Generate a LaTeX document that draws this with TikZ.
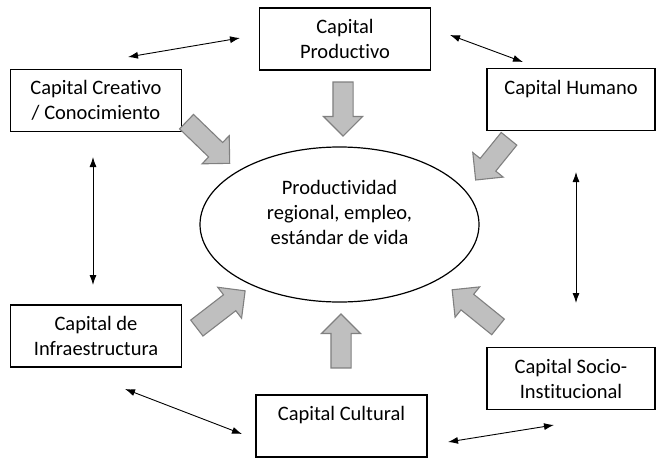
\documentclass[tikz,border=0pt]{standalone}
\usepackage{fontspec}
\setmainfont{Carlito}[Ligatures=NoCommon]
\usetikzlibrary{shapes.geometric,shapes.arrows,arrows.meta}

\begin{document}
\begin{tikzpicture}[x=1pt,y=-1pt,
        every node/.style={font=\fontsize{20.5}{25}\selectfont},
        capbox/.style={draw,line width=1.2pt,minimum width=171pt,minimum height=62pt,align=center,inner sep=0pt},
        flujo/.style={single arrow,draw=black!50,fill=black!25,line width=1.1pt,minimum height=#1,single arrow head extend=9.5pt,inner xsep=0pt,inner ysep=9.5pt},
        enlace/.style={{Latex[length=10pt,width=7pt]}-{Latex[length=10pt,width=7pt]},line width=0.9pt}]
        \useasboundingbox (0,0) rectangle (656,458);

        \node[capbox] (prod) at (345,39) {Capital\\Productivo};
        \node[capbox] (crea) at (96,100.5) {Capital Creativo\\/ Conocimiento};
        \node[capbox,minimum width=168pt] (hum) at (571,99.5) {Capital Humano\\\mbox{}};
        \node[capbox] (infra) at (96,336) {Capital de\\Infraestructura};
        \node[capbox] (cult) at (341.5,426) {Capital Cultural\\\mbox{}};
        \node[capbox,minimum width=168pt] (socio) at (571,378.5) {Capital Socio-\\Institucional};

        \node[ellipse,draw,line width=1.2pt,minimum width=279pt,minimum height=155pt,align=center,inner sep=0pt] (meta) at (339.5,224.5) {Productividad\\regional, empleo,\\estándar de vida\\\mbox{}};

        % flechas hacia el centro
        \node[flujo=54pt,rotate=-90] (fProd) at (343,104) {};
        \node[flujo=60pt,rotate=-44] (fCrea) at (204.5,139) {};
        \node[flujo=53pt,rotate=-129] (fHum) at (495.5,155.5) {};
        \node[flujo=61pt,rotate=37.6] (fInfra) at (217,312.5) {};
        \node[flujo=54pt,rotate=90] (fCult) at (341,346) {};
        \node[flujo=59pt,rotate=141] (fSocio) at (479,311.5) {};

        % relaciones entre capitales
        \coordinate (cp1) at (128,57);
        \coordinate (cp2) at (240,38);
        \coordinate (ph1) at (450,35);
        \coordinate (ph2) at (523,62);
        \coordinate (ci1) at (93,157);
        \coordinate (ci2) at (93,285);
        \coordinate (hs1) at (576,172);
        \coordinate (hs2) at (576,303);
        \coordinate (ic1) at (125,389);
        \coordinate (ic2) at (242,434);
        \coordinate (cs1) at (448,442);
        \coordinate (cs2) at (554,425);

        \draw[enlace] (cp1) -- (cp2);
        \draw[enlace] (ph1) -- (ph2);
        \draw[enlace] (ci1) -- (ci2);
        \draw[enlace] (hs1) -- (hs2);
        \draw[enlace] (ic1) -- (ic2);
        \draw[enlace] (cs1) -- (cs2);
\end{tikzpicture}
\end{document}
